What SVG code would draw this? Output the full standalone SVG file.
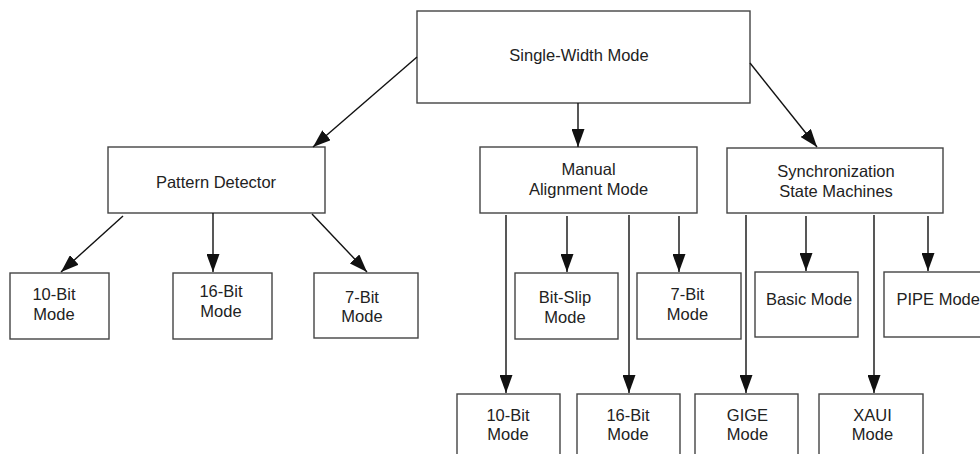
<svg xmlns="http://www.w3.org/2000/svg" width="980" height="454" viewBox="0 0 980 454">
<defs>
<marker id="ah" markerUnits="userSpaceOnUse" markerWidth="18" markerHeight="13" refX="18" refY="6.5" orient="auto" viewBox="0 0 18 13">
<path d="M0,0 L18,6.5 L0,13 z" fill="#111"/>
</marker>
<style>
.box{fill:#fff;stroke:#444;stroke-width:1.4}
.t{font-family:"Liberation Sans",Arial,sans-serif;font-size:16.5px;fill:#222;text-anchor:middle}
.c line{stroke:#111;stroke-width:1.4;marker-end:url(#ah)}
</style>
</defs>
<rect width="980" height="454" fill="#fff"/>
<g id="n-top"><rect class="box" x="417" y="11" width="333" height="92"/><text class="t" x="579" y="61">Single-Width Mode</text></g>
<g id="n-pattern"><rect class="box" x="108" y="147" width="217" height="66"/><text class="t" x="216" y="188">Pattern Detector</text></g>
<g id="n-manual"><rect class="box" x="480" y="147" width="217" height="66"/><text class="t" x="588.5" y="175">Manual</text><text class="t" x="588.5" y="195">Alignment Mode</text></g>
<g id="n-sync"><rect class="box" x="727" y="148" width="216" height="65"/><text class="t" x="836" y="176.5">Synchronization</text><text class="t" x="836" y="197">State Machines</text></g>
<g id="n-pd10"><rect class="box" x="10" y="273" width="99" height="66"/><text class="t" x="54" y="300">10-Bit</text><text class="t" x="54" y="320">Mode</text></g>
<g id="n-pd16"><rect class="box" x="173" y="273" width="99" height="66"/><text class="t" x="221" y="297">16-Bit</text><text class="t" x="221" y="317">Mode</text></g>
<g id="n-pd7"><rect class="box" x="314" y="273" width="104" height="65"/><text class="t" x="362" y="303">7-Bit</text><text class="t" x="362" y="322">Mode</text></g>
<g id="n-bitslip"><rect class="box" x="515" y="273" width="103" height="66"/><text class="t" x="565" y="303">Bit-Slip</text><text class="t" x="565" y="323">Mode</text></g>
<g id="n-ma7"><rect class="box" x="637" y="273" width="104" height="66"/><text class="t" x="687.5" y="300">7-Bit</text><text class="t" x="687.5" y="320">Mode</text></g>
<g id="n-basic"><rect class="box" x="755" y="272" width="103" height="65"/><text class="t" x="809" y="305">Basic Mode</text></g>
<g id="n-pipe"><rect class="box" x="884" y="272" width="110" height="65"/><text class="t" x="896.5" y="305" style="text-anchor:start">PIPE Mode</text></g>
<g id="n-ma10"><rect class="box" x="457" y="394" width="103" height="70"/><text class="t" x="508" y="421">10-Bit</text><text class="t" x="508" y="440">Mode</text></g>
<g id="n-ma16"><rect class="box" x="577" y="394" width="103" height="70"/><text class="t" x="628" y="421">16-Bit</text><text class="t" x="628" y="440">Mode</text></g>
<g id="n-gige"><rect class="box" x="695" y="394" width="103" height="70"/><text class="t" x="747.5" y="421">GIGE</text><text class="t" x="747.5" y="440">Mode</text></g>
<g id="n-xaui"><rect class="box" x="819" y="394" width="104" height="70"/><text class="t" x="872.5" y="421">XAUI</text><text class="t" x="872.5" y="440">Mode</text></g>
<g id="connectors" class="c">
<line x1="417" y1="57" x2="313" y2="147"/>
<line x1="578" y1="103" x2="578" y2="147"/>
<line x1="750" y1="63" x2="817" y2="147"/>
<line x1="123" y1="216" x2="61" y2="272"/>
<line x1="213" y1="213" x2="213" y2="272"/>
<line x1="312" y1="214" x2="367" y2="272"/>
<line x1="506" y1="215" x2="506" y2="393"/>
<line x1="567" y1="216" x2="567" y2="272"/>
<line x1="629" y1="215" x2="629" y2="393"/>
<line x1="679" y1="216" x2="679" y2="272"/>
<line x1="746" y1="215" x2="746" y2="393"/>
<line x1="806" y1="216" x2="806" y2="271"/>
<line x1="874" y1="215" x2="874" y2="393"/>
<line x1="928" y1="216" x2="928" y2="271"/>
</g>
</svg>
